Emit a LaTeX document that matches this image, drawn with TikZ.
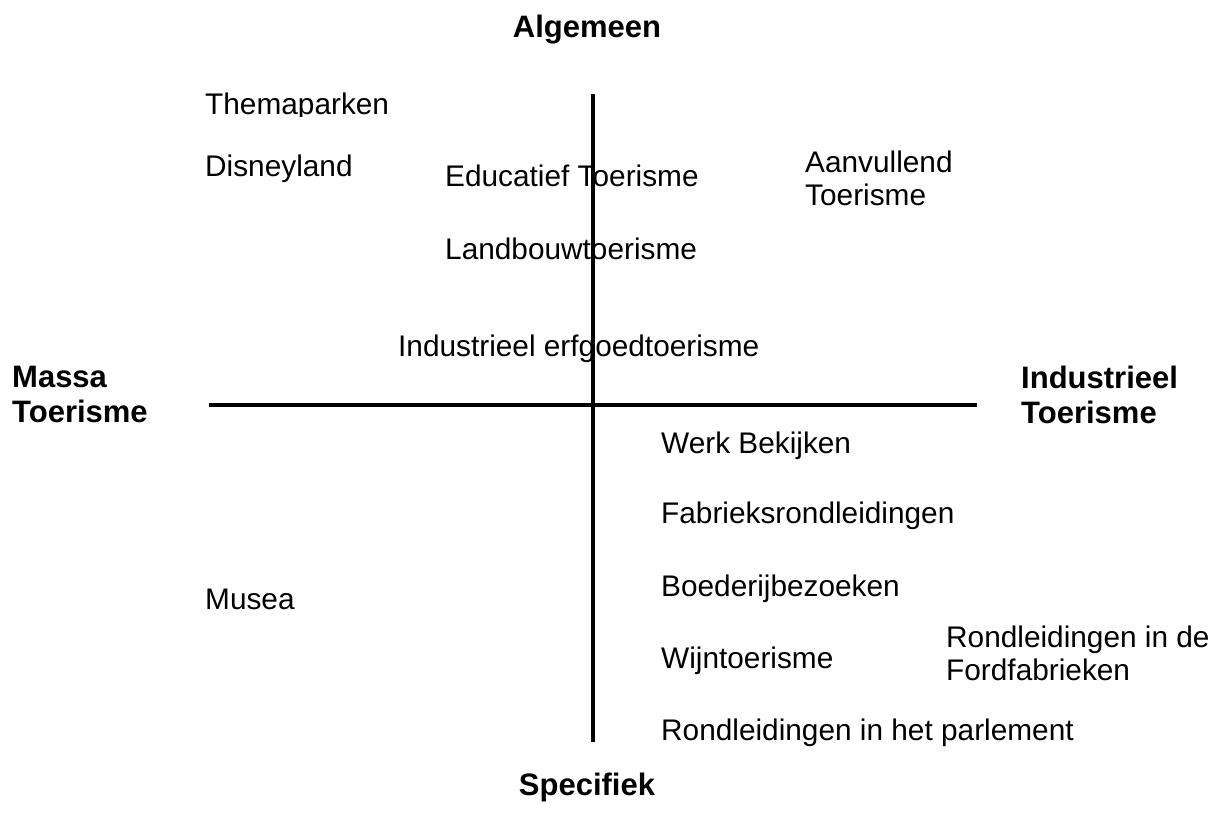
\documentclass[tikz,border=0pt]{standalone}
\usepackage{fontspec}
\setmainfont{Liberation Sans}
\begin{document}
\begin{tikzpicture}[x=1pt,y=-1pt,
  lbl/.style={inner sep=0pt, anchor=base west, font=\fontsize{29.8}{32}\selectfont},
  lbltwo/.style={inner sep=0pt, anchor=north west, align=left, font=\fontsize{29.8}{32.5}\selectfont},
  ttl/.style={inner sep=0pt, anchor=base, font=\fontsize{31}{35}\selectfont\bfseries},
  side/.style={inner sep=0pt, anchor=north west, align=left, font=\fontsize{31}{35}\selectfont\bfseries},
  axis/.style={line width=4pt}]
\useasboundingbox (0,0) rectangle (1221,829);

% axis titles
\node[ttl] (alg) at (587,38) {Algemeen};
\node[ttl] (spec) at (587,795) {Specifiek};
\node[side] (massa) at (12,366) {Massa\\Toerisme};
\node[side] (indus) at (1021,366) {Industrieel\\Toerisme};

% upper half
\begin{scope}
  \clip (0,0) rectangle (1221,117);
  \node[lbl] (thema) at (205,115) {Themaparken};
\end{scope}
\node[lbl] (disney) at (205,177) {Disneyland};
\node[lbl] (educ) at (445,187) {Educatief Toerisme};
\node[lbltwo] (aanv) at (805,151) {Aanvullend\\Toerisme};
\node[lbl] (landb) at (445,259) {Landbouwtoerisme};
\node[lbl] (erfg) at (398,356) {Industrieel erfgoedtoerisme};

% lower half
\node[lbl] (werk) at (661,453) {Werk Bekijken};
\node[lbl] (fabr) at (661,523) {Fabrieksrondleidingen};
\node[lbl] (boed) at (661,596) {Boederijbezoeken};
\node[lbl] (musea) at (205,609) {Musea};
\node[lbl] (wijn) at (661,668) {Wijntoerisme};
\node[lbltwo] (ford) at (946,626) {Rondleidingen in de\\Fordfabrieken};
\node[lbl] (parl) at (661,740) {Rondleidingen in het parlement};

% axes
\coordinate (ytop) at (593,94);
\coordinate (ybot) at (593,742);
\coordinate (xleft) at (209,405);
\coordinate (xright) at (977,405);
\draw[axis] (ytop) -- (ybot);
\draw[axis] (xleft) -- (xright);
\end{tikzpicture}
\end{document}
